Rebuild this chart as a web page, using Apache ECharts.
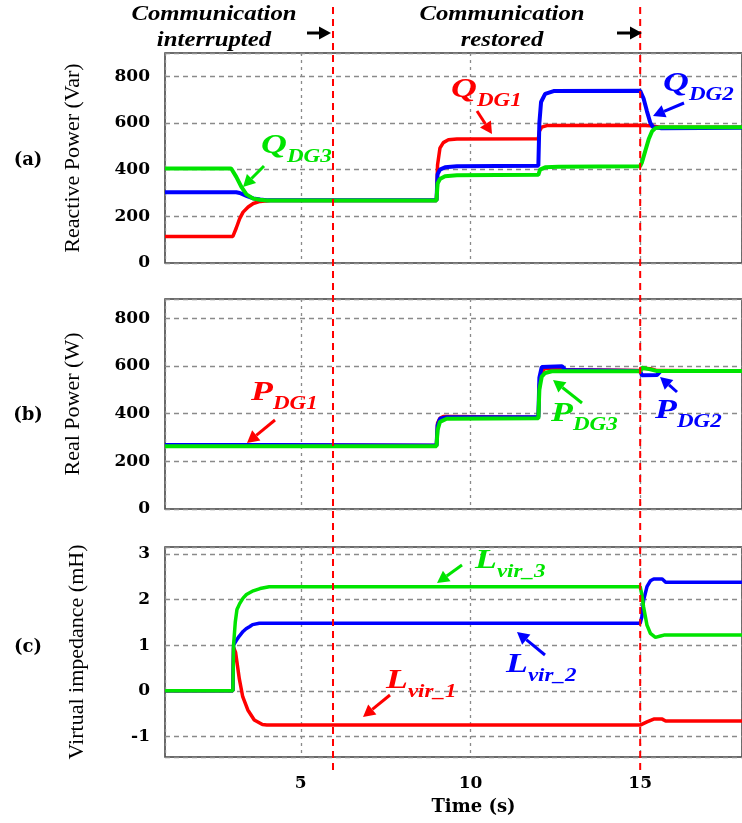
<!DOCTYPE html>
<html>
<head>
<meta charset="utf-8">
<script src="https://cdn.jsdelivr.net/npm/echarts@6/dist/echarts.min.js"></script>
<style>
  html, body { margin: 0; padding: 0; background: #fff; }
  #chart { width: 742px; height: 823px; }
</style>
</head>
<body>
<div id="chart"></div>
<script>
// ---- (a) reactive power, Var ----
const tQ1 = [1, 3.0, 3.1, 3.2, 3.3, 3.45, 3.6, 3.8, 4.1, 9.0, 9.03, 9.1, 9.2, 9.35, 9.6, 12.0, 12.03, 12.1, 12.25, 15.0, 15.3, 15.6, 18];
const qDG1 = [114, 114, 150, 190, 218, 240, 255, 264, 268, 268, 420, 492, 516, 528, 531, 533, 565, 582, 589, 590, 588, 582, 582];
const tQ2 = [1, 3.1, 3.2, 3.3, 3.4, 3.5, 3.6, 3.8, 4.0, 9.0, 9.03, 9.1, 9.25, 9.6, 12.0, 12.03, 12.08, 12.2, 12.45, 15.0, 15.1, 15.2, 15.3, 15.38, 15.6, 18];
const qDG2 = [303, 303, 300, 294, 288, 282, 277, 272, 269, 269, 380, 400, 410, 415, 417, 600, 690, 725, 737, 738, 705, 650, 600, 582, 578, 580];
const tQ3 = [1, 2.95, 3.1, 3.25, 3.4, 3.6, 3.8, 4.0, 9.0, 9.03, 9.1, 9.25, 9.6, 12.0, 12.05, 12.2, 12.6, 15.0, 15.05, 15.15, 15.25, 15.35, 15.45, 15.6, 18];
const qDG3 = [405, 405, 369, 326, 294, 276, 271, 268, 268, 340, 360, 372, 376, 378, 400, 410, 413, 415, 430, 480, 530, 565, 578, 582, 582];

// ---- (b) real power, W ----
const tP1 = [1, 4.0, 9.0, 9.03, 9.1, 9.2, 9.4, 12.0, 12.03, 12.1, 12.2, 12.4, 15.0, 15.05, 15.3, 15.5, 18];
const pDG1 = [268, 268, 266, 360, 380, 388, 388, 385, 520, 575, 590, 585, 580, 590, 588, 580, 578];
const tP2 = [1, 4.0, 9.0, 9.03, 9.1, 9.3, 12.0, 12.03, 12.1, 12.7, 12.8, 15.0, 15.05, 15.5, 15.6, 18];
const pDG2 = [268, 268, 266, 350, 378, 385, 385, 550, 595, 598, 582, 578, 560, 562, 578, 578];
const tP3 = [1, 9.0, 9.03, 9.1, 9.3, 12.0, 12.03, 12.1, 12.2, 12.4, 15.0, 15.05, 15.3, 15.5, 18];
const pDG3 = [263, 263, 330, 365, 378, 380, 500, 555, 570, 577, 577, 592, 585, 578, 578];

// ---- (c) virtual impedance, mH ----
const tL1 = [1, 3.0, 3.02, 3.08, 3.19, 3.29, 3.44, 3.63, 3.87, 4.0, 15.0, 15.2, 15.4, 15.65, 15.75, 18];
const lVir1 = [0, 0, 0.95, 0.84, 0.26, -0.13, -0.42, -0.64, -0.74, -0.75, -0.75, -0.68, -0.62, -0.62, -0.66, -0.66];
const tL2 = [1, 3.0, 3.02, 3.1, 3.19, 3.3, 3.39, 3.5, 3.58, 3.78, 4.0, 15.0, 15.05, 15.1, 15.2, 15.3, 15.4, 15.65, 15.75, 18];
const lVir2 = [0, 0, 1.0, 1.1, 1.2, 1.3, 1.36, 1.41, 1.45, 1.48, 1.48, 1.48, 1.62, 1.98, 2.28, 2.41, 2.45, 2.45, 2.38, 2.38];
const tL3 = [1, 3.0, 3.02, 3.07, 3.12, 3.2, 3.3, 3.4, 3.6, 3.8, 4.07, 15.0, 15.05, 15.1, 15.2, 15.3, 15.45, 15.6, 15.7, 18];
const lVir3 = [0, 0, 1.0, 1.5, 1.78, 1.91, 2.03, 2.11, 2.19, 2.24, 2.28, 2.28, 2.1, 1.84, 1.44, 1.26, 1.17, 1.2, 1.22, 1.22];

// communication events (s)
const eventTimes = [5.95, 15];

const RED = '#ff0000', BLUE = '#0000ff', GREEN = '#00e400';
const SERIF = '"Liberation Serif", "Times New Roman", serif';
const WIDE_SERIF = '"DejaVu Serif", serif';

const zip = (xs, ys) => xs.map((x, i) => [x, ys[i]]);

function trace(name, xs, ys, color, width, idx) {
  return {
    name, type: 'line', xAxisIndex: idx, yAxisIndex: idx,
    data: zip(xs, ys), showSymbol: false, symbol: 'none',
    lineStyle: { color, width }, itemStyle: { color },
    animation: false, silent: true
  };
}

const gridTops = [53, 299, 547];
const grids = gridTops.map(top => ({
  left: 165, top, width: 581, height: 210,
  show: true, borderColor: '#3a3a3a', borderWidth: 1.5, backgroundColor: 'transparent'
}));

const xAxes = [0, 1, 2].map(i => ({
  type: 'value', gridIndex: i, min: 1, max: 18, splitNumber: 4,
  axisLine: { show: false }, axisTick: { show: false },
  axisLabel: {
    show: i === 2, showMinLabel: false, showMaxLabel: false, margin: 18,
    fontFamily: WIDE_SERIF, fontWeight: 'bold', fontSize: 17, color: '#000'
  },
  splitLine: { show: true, lineStyle: { color: '#8a8a8a', width: 1.3, type: [3, 4] } },
  name: i === 2 ? 'Time (s)' : '', nameLocation: 'middle', nameGap: 41,
  nameTextStyle: { fontFamily: WIDE_SERIF, fontWeight: 'bold', fontSize: 18, color: '#000', padding: [0, 0, 0, 40] }
}));

function yAxis(i, name, extra) {
  return Object.assign({
    type: 'value', gridIndex: i,
    axisLine: { show: false }, axisTick: { show: false },
    axisLabel: {
      showMinLabel: true, showMaxLabel: false, margin: 15,
      fontFamily: WIDE_SERIF, fontWeight: 'bold', fontSize: 17, color: '#000'
    },
    splitLine: { show: true, lineStyle: { color: '#8a8a8a', width: 1.3, type: [5, 4] } },
    name, nameLocation: 'middle', nameGap: 81,
    nameTextStyle: { fontFamily: SERIF, fontSize: 22, color: '#000' }
  }, extra);
}

const yAxes = [
  yAxis(0, 'Reactive Power (Var)', { min: 0, max: 900, interval: 200 }),
  yAxis(1, 'Real Power (W)', { min: 0, max: 880, interval: 200 }),
  yAxis(2, 'Virtual impedance (mH)', { min: -1.45, max: 3.15, splitNumber: 5 })
];
yAxes[2].axisLabel.showMinLabel = false;
yAxes[2].nameGap = 77;

const series = [
  trace('Q_DG1', tQ1, qDG1, RED, 3.5, 0),
  trace('Q_DG2', tQ2, qDG2, BLUE, 4, 0),
  trace('Q_DG3', tQ3, qDG3, GREEN, 4, 0),
  trace('P_DG1', tP1, pDG1, RED, 3.5, 1),
  trace('P_DG2', tP2, pDG2, BLUE, 4, 1),
  trace('P_DG3', tP3, pDG3, GREEN, 4, 1),
  trace('L_vir_1', tL1, lVir1, RED, 3.5, 2),
  trace('L_vir_2', tL2, lVir2, BLUE, 3.5, 2),
  trace('L_vir_3', tL3, lVir3, GREEN, 3.5, 2)
];

const chart = echarts.init(document.getElementById('chart'), null, { renderer: 'canvas' });
chart.setOption({
  backgroundColor: '#fff',
  animation: false,
  grid: grids, xAxis: xAxes, yAxis: yAxes, series
});

// ---- annotations ----
function arrow(x1, y1, x2, y2, color, w) {
  const a = Math.atan2(y2 - y1, x2 - x1);
  const hl = 12, hw = 6.5;
  const bx = x2 - hl * Math.cos(a), by = y2 - hl * Math.sin(a);
  const px = -Math.sin(a), py = Math.cos(a);
  return [
    { type: 'line', z: 30, silent: true, shape: { x1, y1, x2: bx, y2: by }, style: { stroke: color, lineWidth: w } },
    { type: 'polygon', z: 30, silent: true, shape: { points: [[x2, y2], [bx + px * hw, by + py * hw], [bx - px * hw, by - py * hw]] }, style: { fill: color } }
  ];
}

const STRETCH = 1.28;

function subLabel(x, y, main, sub, color) {
  const base = { fontFamily: SERIF, fontStyle: 'italic', fontWeight: 'bold', fill: color };
  return {
    type: 'text', x, y, z: 30, silent: true, scaleX: STRETCH,
    style: {
      text: '{m|' + main + '}{s|' + sub + '}',
      verticalAlign: 'middle', align: 'left',
      rich: {
        m: Object.assign({ fontSize: 28, verticalAlign: 'bottom', padding: [0, 0, 7, 0] }, base),
        s: Object.assign({ fontSize: 18, verticalAlign: 'bottom' }, base)
      }
    }
  };
}

function plainText(x, y, text, opts, sx) {
  return {
    type: 'text', x, y, z: 30, silent: true, scaleX: sx || 1,
    style: Object.assign({ text, fill: '#000', fontFamily: SERIF, align: 'center', verticalAlign: 'middle' }, opts)
  };
}

const topFont = { fontStyle: 'italic', fontWeight: 'bold', fontSize: 21, lineHeight: 26 };
const panelFont = { fontWeight: 'bold', fontSize: 18, fontFamily: WIDE_SERIF };

const eventLines = eventTimes.map(t => {
  const x = chart.convertToPixel({ xAxisIndex: 0 }, t);
  return { type: 'line', z: 25, silent: true, shape: { x1: x, y1: 7, x2: x, y2: 770 },
           style: { stroke: RED, lineWidth: 2, lineDash: [7, 5] } };
});

const graphics = [].concat(
  eventLines,
  [
    plainText(214, 28, 'Communication\ninterrupted', topFont, 1.18),
    plainText(502, 28, 'Communication\nrestored', topFont, 1.18),
    plainText(28, 160, '(a)', panelFont),
    plainText(28, 415, '(b)', panelFont),
    plainText(28, 647, '(c)', panelFont),
    subLabel(261, 149, 'Q', 'DG3', GREEN),
    subLabel(451, 93, 'Q', 'DG1', RED),
    subLabel(663, 87, 'Q', 'DG2', BLUE),
    subLabel(251, 396, 'P', 'DG1', RED),
    subLabel(551, 417, 'P', 'DG3', GREEN),
    subLabel(655, 414, 'P', 'DG2', BLUE),
    subLabel(475, 564, 'L', 'vir_3', GREEN),
    subLabel(506, 668, 'L', 'vir_2', BLUE),
    subLabel(386, 684, 'L', 'vir_1', RED)
  ],
  arrow(307, 33, 331, 33, '#000', 3),
  arrow(617, 33, 642, 33, '#000', 3),
  arrow(264, 166, 243, 187, GREEN, 3),
  arrow(477, 111, 492, 134, RED, 3),
  arrow(684, 103, 653, 116, BLUE, 3),
  arrow(275, 420, 247, 443, RED, 3),
  arrow(582, 403, 553, 380, GREEN, 3),
  arrow(677, 392, 660, 377, BLUE, 3),
  arrow(462, 565, 437, 583, GREEN, 3),
  arrow(545, 655, 517, 632, BLUE, 3),
  arrow(390, 695, 363, 717, RED, 3)
);

chart.setOption({ graphic: graphics });
</script>
</body>
</html>
